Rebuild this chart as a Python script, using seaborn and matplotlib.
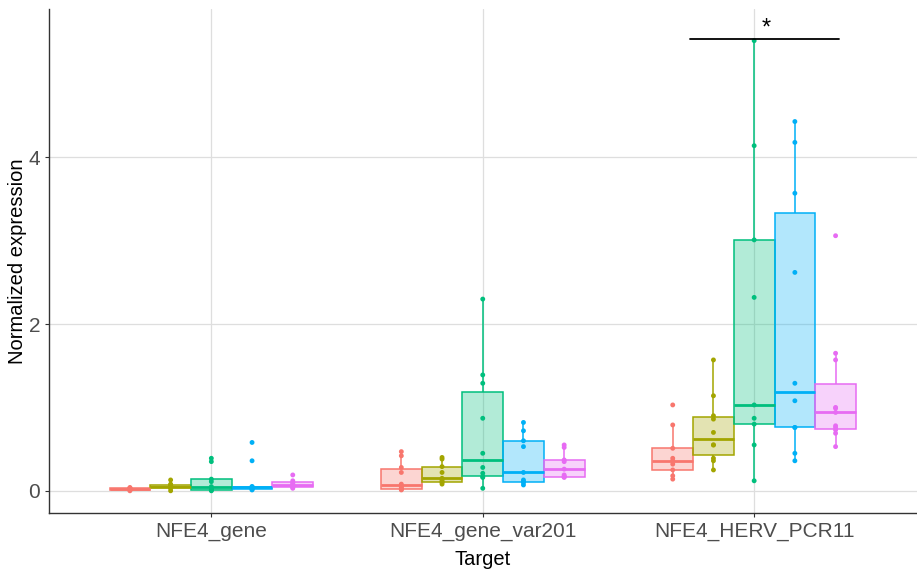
import numpy as np
import pandas as pd
import matplotlib
matplotlib.use("Agg")
import matplotlib.pyplot as plt
import matplotlib.colors as mcolors
import seaborn as sns

# ---- data -------------------------------------------------------------
targets = ["NFE4_gene", "NFE4_gene_var201", "NFE4_HERV_PCR11"]
groups = ["Group 1", "Group 2", "Group 3", "Group 4", "Group 5"]
colors = ["#F8766D", "#A3A500", "#00BF7D", "#00B0F6", "#E76BF3"]

# one list per group, for each target
nfe4_gene = [
    [0.0, 0.01, 0.01, 0.02, 0.02, 0.02, 0.03, 0.03, 0.04],
    [0.0, 0.03, 0.04, 0.05, 0.05, 0.06, 0.07, 0.08, 0.13],
    [0.0, 0.01, 0.01, 0.03, 0.05, 0.11, 0.14, 0.35, 0.39],
    [0.01, 0.02, 0.02, 0.03, 0.04, 0.05, 0.05, 0.36, 0.58],
    [0.03, 0.04, 0.05, 0.06, 0.07, 0.09, 0.10, 0.12, 0.19],
]
nfe4_gene_var201 = [
    [0.01, 0.02, 0.02, 0.04, 0.05, 0.08, 0.22, 0.28, 0.42, 0.47],
    [0.08, 0.10, 0.11, 0.13, 0.15, 0.22, 0.29, 0.38, 0.40],
    [0.03, 0.16, 0.17, 0.21, 0.28, 0.45, 0.87, 1.29, 1.39, 2.30],
    [0.07, 0.10, 0.11, 0.13, 0.22, 0.53, 0.60, 0.72, 0.82],
    [0.16, 0.17, 0.17, 0.19, 0.26, 0.35, 0.37, 0.52, 0.55],
]
nfe4_herv_pcr11 = [
    [0.14, 0.18, 0.25, 0.32, 0.36, 0.39, 0.51, 0.79, 1.03],
    [0.25, 0.36, 0.39, 0.55, 0.55, 0.70, 0.86, 0.90, 1.14, 1.57],
    [0.12, 0.55, 0.80, 0.87, 1.03, 2.32, 3.01, 4.14, 5.40],
    [0.36, 0.45, 0.76, 0.76, 1.08, 1.29, 2.62, 3.57, 4.18, 4.43],
    [0.53, 0.69, 0.73, 0.76, 0.78, 0.94, 0.99, 1.00, 1.57, 1.65, 3.06],
]

rows = []
for tgt, per_group in zip(targets, [nfe4_gene, nfe4_gene_var201, nfe4_herv_pcr11]):
    for grp, vals in zip(groups, per_group):
        for v in vals:
            rows.append({"Target": tgt, "Group": grp, "Expression": v})
df = pd.DataFrame(rows)

# ---- plot -------------------------------------------------------------
sns.set_theme(style="white")
plt.rcParams["font.family"] = ["Liberation Sans", "DejaVu Sans"]

fig = plt.figure(figsize=(9.17, 5.70), dpi=100)
ax = fig.add_axes([48.5 / 917, (570 - 513.3) / 570, (917 - 48.5) / 917, (513.3 - 9) / 570])

sns.boxplot(data=df, x="Target", y="Expression", hue="Group",
            order=targets, hue_order=groups, palette=colors,
            width=0.75, gap=0, showfliers=False, showcaps=False,
            saturation=1, linewidth=1.1, legend=False, ax=ax)

for cont in ax.containers:
    col = cont.boxes[0].get_facecolor()
    rgb = col[:3]
    for b in cont.boxes:
        b.set_facecolor(mcolors.to_rgba(rgb, 0.3))
        b.set_edgecolor(rgb)
        b.set_linewidth(1.1)
    for m in cont.medians:
        m.set_color(rgb)
        m.set_linewidth(2.0)
    for w in cont.whiskers:
        w.set_color(rgb)
        w.set_linewidth(1.1)

n_before = len(ax.collections)
sns.stripplot(data=df, x="Target", y="Expression", hue="Group",
              order=targets, hue_order=groups, palette=colors,
              dodge=True, jitter=False, size=3.5, linewidth=0,
              legend=False, ax=ax, zorder=3)
# align the dodged points with the 0.75-wide box groups
for coll in ax.collections[n_before:]:
    off = coll.get_offsets()
    if len(off):
        off = np.asarray(off, dtype=float)
        c = np.round(off[:, 0])
        off[:, 0] = c + (off[:, 0] - c) * 0.75 / 0.8
        coll.set_offsets(off)

ax.set_xlim(-0.6, 2.6)
ax.set_ylim(-0.27, 5.78)
ax.set_yticks([0, 2, 4])
ax.grid(True, color="#DEDEDE", linewidth=0.9)
ax.set_axisbelow(True)
for s in ["top", "right"]:
    ax.spines[s].set_visible(False)
for s in ["left", "bottom"]:
    ax.spines[s].set_color("#333333")
    ax.spines[s].set_linewidth(1.0)
ax.tick_params(axis="both", length=3, width=0.8, color="#333333",
               labelsize=15, labelcolor="#4D4D4D", pad=3, left=True, bottom=True)
ax.set_xlabel("Target", fontsize=14.5, color="black", labelpad=7)
ax.set_ylabel("Normalized expression", fontsize=14.5, color="black", labelpad=1)

# significance bracket
ax.plot([1.763, 2.311], [5.42, 5.42], color="black", linewidth=1.3, zorder=4)
ax.text(2.043, 5.41, "*", ha="center", va="bottom", fontsize=17, color="black")

fig.savefig("out.png", dpi=100)
